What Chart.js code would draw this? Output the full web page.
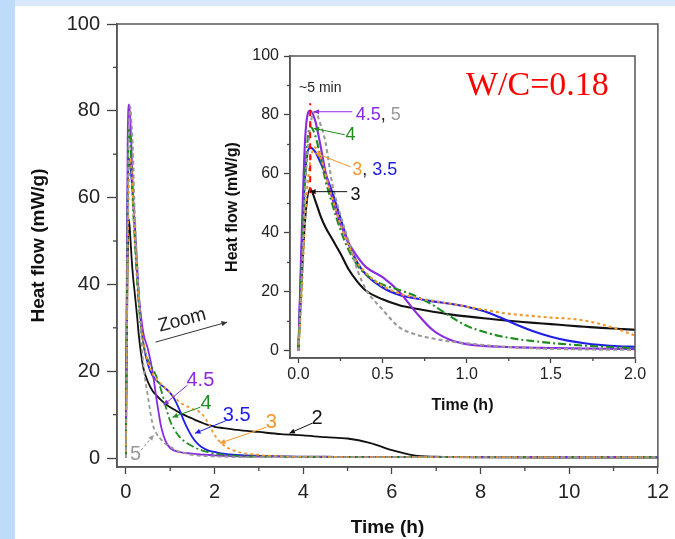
<!DOCTYPE html>
<html>
<head>
<meta charset="utf-8">
<script src="https://cdn.jsdelivr.net/npm/chart.js@4.4.0/dist/chart.umd.min.js"></script>
<style>
  html, body { margin: 0; padding: 0; }
  body { width: 675px; height: 539px; background: #bedbfb; position: relative; overflow: hidden; }
  #top-strip { position: absolute; left: 15px; top: 0; width: 660px; height: 6px; background: #d8e9fc; }
  #panel { position: absolute; left: 15px; top: 6px; width: 660px; height: 533px; background: #fff; }
  #main-chart { position: absolute; left: 0; top: 0; }
  #inset-chart { position: absolute; left: 215px; top: 40px; }
</style>
</head>
<body>
<div id="top-strip"></div>
<div id="panel"></div>
<canvas id="main-chart" width="675" height="539"></canvas>
<canvas id="inset-chart" width="445" height="375"></canvas>
<script>
// time (h)
const times = [0, 0.02, 0.04, 0.07, 0.1, 0.13, 0.16, 0.2, 0.25, 0.3, 0.35, 0.4, 0.5, 0.6, 0.7, 0.8, 0.9, 1.0, 1.1, 1.2,
  1.3, 1.4, 1.5, 1.6, 1.7, 1.8, 1.9, 2.0, 2.2, 2.5, 3, 3.5, 4, 4.5, 5, 5.5, 6, 6.5, 7, 8, 10, 12];

// heat flow (mW/g), one list per curve label
const flow2 = [0, 25, 45, 55, 51, 46, 42, 38, 33, 27.5, 23.5, 20.5, 17.5, 15.5, 14.3, 13.3, 12.4, 11.7, 11.1, 10.5,
  10.0, 9.5, 9.1, 8.6, 8.2, 7.8, 7.5, 7.2, 6.9, 6.5, 6.0, 5.5, 5.2, 4.8, 4.5, 3.5, 1.8, 0.6, 0.3, 0.15, 0.1, 0.1];
const flow3 = [0, 20, 45, 64, 69, 66, 60, 52, 43, 35.5, 30, 26.5, 22, 19.5, 18, 17, 16, 15, 14, 13,
  12.3, 11.8, 11.3, 11, 10.3, 9, 7.3, 5.3, 3.0, 1.5, 0.7, 0.4, 0.3, 0.3, 0.2, 0.2, 0.2, 0.2, 0.2, 0.2, 0.2, 0.2];
const flow35 = [0, 35, 60, 69, 67.5, 64, 60, 54, 45, 36, 30, 26, 21.5, 19, 17.8, 16.8, 16, 15, 13.5, 11.3,
  8.8, 6.6, 4.8, 3.5, 2.6, 2.0, 1.6, 1.4, 1.0, 0.7, 0.5, 0.4, 0.3, 0.3, 0.2, 0.2, 0.2, 0.2, 0.2, 0.2, 0.2, 0.2];
const flow4 = [0, 30, 60, 76, 73, 66, 58, 50, 41, 34, 29, 26, 22.5, 20.7, 18.5, 15.5, 11.8, 8.5, 6.5, 5.0,
  4.0, 3.3, 2.7, 2.2, 1.8, 1.5, 1.2, 1.0, 0.8, 0.5, 0.3, 0.3, 0.2, 0.2, 0.2, 0.2, 0.2, 0.2, 0.2, 0.2, 0.2, 0.2];
const flow45 = [0, 40, 72, 81.5, 78, 70, 61, 52, 43, 36.5, 32, 28.5, 25, 20, 13, 7, 3.8, 2.3, 1.7, 1.4,
  1.2, 1.1, 1.0, 0.9, 0.8, 0.75, 0.7, 0.6, 0.5, 0.4, 0.3, 0.3, 0.2, 0.2, 0.2, 0.2, 0.2, 0.2, 0.2, 0.2, 0.2, 0.2];
const flow5 = [0, 25, 55, 76, 81, 77, 71, 57, 46, 37, 27.5, 21, 14, 8, 5.5, 4.2, 3.2, 2.6, 2.0, 1.5,
  1.2, 0.9, 0.7, 0.6, 0.5, 0.45, 0.4, 0.35, 0.3, 0.2, 0.2, 0.2, 0.2, 0.2, 0.2, 0.2, 0.2, 0.2, 0.2, 0.2, 0.2, 0.2];

// tick values
const mainXTicks = [0, 1, 2, 3, 4, 5, 6, 7, 8, 9, 10, 11, 12];
const mainXLabels = [0, 2, 4, 6, 8, 10, 12];
const mainYTicks = [0, 10, 20, 30, 40, 50, 60, 70, 80, 90, 100];
const mainYLabels = [0, 20, 40, 60, 80, 100];
const insetXTicks = [0, 0.25, 0.5, 0.75, 1.0, 1.25, 1.5, 1.75, 2.0];
const insetXLabels = [0, 0.5, 1.0, 1.5, 2.0];
const insetYTicks = [0, 10, 20, 30, 40, 50, 60, 70, 80, 90, 100];
const insetYLabels = [0, 20, 40, 60, 80, 100];

const FONT = "'Liberation Sans', Arial, sans-serif";
const PURPLE = '#8a2be2', BLUE = '#1e1ee6', ORANGE = '#f5962a', GREEN = '#1e8c1e', GRAY = '#999999', BLACK = '#111111';

// first one is drawn on top
const curves = [
  { values: flow5, color: GRAY, dash: [4, 3] },
  { values: flow3, color: ORANGE, dash: [3, 3] },
  { values: flow4, color: GREEN, dash: [8, 3, 2, 3] },
  { values: flow45, color: PURPLE, dash: [] },
  { values: flow35, color: BLUE, dash: [] },
  { values: flow2, color: BLACK, dash: [] },
];

const makeDatasets = (lw) => curves.map(c => ({
  data: times.map((t, i) => ({ x: t, y: c.values[i] })),
  borderColor: c.color,
  borderDash: c.dash,
  borderWidth: lw,
  pointRadius: 0,
  fill: false,
  cubicInterpolationMode: 'monotone',
}));

// frame, minor ticks and notes
const frame = {
  id: 'frame',
  afterDatasetsDraw(chart, args, opts) {
    const { ctx, chartArea: a } = chart;
    ctx.save();
    ctx.strokeStyle = '#555';
    ctx.lineWidth = 1.5;
    ctx.strokeRect(a.left, a.top, a.right - a.left, a.bottom - a.top);
    // minor ticks
    ctx.strokeStyle = '#444';
    ctx.lineWidth = 1.3;
    const xs = chart.scales.x, ys = chart.scales.y;
    xs.ticks.forEach(t => {
      if (t.label !== '') return;
      const px = xs.getPixelForValue(t.value);
      ctx.beginPath(); ctx.moveTo(px, a.bottom); ctx.lineTo(px, a.bottom + opts.minor); ctx.stroke();
    });
    ys.ticks.forEach(t => {
      if (t.label !== '') return;
      const py = ys.getPixelForValue(t.value);
      ctx.beginPath(); ctx.moveTo(a.left, py); ctx.lineTo(a.left - opts.minor, py); ctx.stroke();
    });
    ctx.restore();
  }
};

const drawHead = (ctx, x, y, fromX, fromY, size) => {
  const ang = Math.atan2(y - fromY, x - fromX);
  ctx.beginPath();
  ctx.moveTo(x, y);
  ctx.lineTo(x - size * Math.cos(ang - 0.45), y - size * Math.sin(ang - 0.45));
  ctx.lineTo(x - size * Math.cos(ang + 0.45), y - size * Math.sin(ang + 0.45));
  ctx.closePath();
  ctx.fill();
};

const notes = {
  id: 'notes',
  afterDatasetsDraw(chart, args, opts) {
    const { ctx } = chart;
    const xs = chart.scales.x, ys = chart.scales.y;
    (opts.items || []).forEach(it => {
      ctx.save();
      if (it.kind === 'arrow') {
        const x1 = xs.getPixelForValue(it.x1), y1 = ys.getPixelForValue(it.y1);
        const x2 = xs.getPixelForValue(it.x2), y2 = ys.getPixelForValue(it.y2);
        ctx.strokeStyle = it.color;
        ctx.fillStyle = it.color;
        ctx.lineWidth = it.width || 1;
        ctx.setLineDash(it.dash || []);
        ctx.beginPath(); ctx.moveTo(x1, y1); ctx.lineTo(x2, y2); ctx.stroke();
        ctx.setLineDash([]);
        if (it.head === 'start') drawHead(ctx, x1, y1, x2, y2, 6);
        if (it.head === 'end') drawHead(ctx, x2, y2, x1, y1, 6);
      } else {
        const px = xs.getPixelForValue(it.x), py = ys.getPixelForValue(it.y);
        ctx.font = it.font;
        ctx.textBaseline = 'middle';
        const parts = it.parts || [{ t: it.text, c: it.color }];
        const total = parts.reduce((s, p) => s + ctx.measureText(p.t).width, 0);
        ctx.translate(px, py);
        if (it.rotate) ctx.rotate(it.rotate * Math.PI / 180);
        let cx = it.align === 'left' ? 0 : -total / 2;
        parts.forEach(p => {
          ctx.fillStyle = p.c;
          ctx.fillText(p.t, cx, 0);
          cx += ctx.measureText(p.t).width;
        });
      }
      ctx.restore();
    });
  }
};

const labelFont = (size) => `${size}px ${FONT}`;

const mainNotes = [
  { text: 'Zoom', color: '#222', font: labelFont(19), x: 1.27, y: 31.7, rotate: -15 },
  { kind: 'arrow', x1: 0.67, y1: 26.7, x2: 2.28, y2: 31.3, color: '#333', head: 'end' },
  { text: '4.5', color: PURPLE, font: labelFont(20), x: 1.68, y: 17.9 },
  { kind: 'arrow', x1: 0.85, y1: 12.2, x2: 1.39, y2: 16.8, color: PURPLE, head: 'start' },
  { text: '4', color: GREEN, font: labelFont(20), x: 1.81, y: 12.6 },
  { kind: 'arrow', x1: 1.05, y1: 9.4, x2: 1.68, y2: 11.7, color: GREEN, head: 'start' },
  { text: '3.5', color: BLUE, font: labelFont(20), x: 2.5, y: 9.9 },
  { kind: 'arrow', x1: 1.56, y1: 5.7, x2: 2.28, y2: 8.7, color: BLUE, head: 'start' },
  { text: '3', color: ORANGE, font: labelFont(20), x: 3.28, y: 8.3 },
  { kind: 'arrow', x1: 2.12, y1: 3.4, x2: 3.17, y2: 7.1, color: ORANGE, head: 'start' },
  { text: '2', color: BLACK, font: labelFont(20), x: 4.31, y: 9.2 },
  { kind: 'arrow', x1: 3.69, y1: 5.7, x2: 4.2, y2: 8.0, color: BLACK, head: 'start' },
  { text: '5', color: GRAY, font: labelFont(20), x: 0.22, y: 0.7 },
  { kind: 'arrow', x1: 0.34, y1: 1.8, x2: 0.63, y2: 5.3, color: GRAY, head: 'end', dash: [3, 2] },
];

const insetNotes = [
  { text: '~5 min', color: '#222', font: labelFont(14), x: 0.13, y: 89 },
  { kind: 'arrow', x1: 0.07, y1: 53.5, x2: 0.07, y2: 84, color: '#ff0000', width: 2, dash: [6, 5] },
  { parts: [{ t: '4.5', c: PURPLE }, { t: ', ', c: '#222' }, { t: '5', c: GRAY }], font: labelFont(18), x: 0.34, y: 80, align: 'left' },
  { kind: 'arrow', x1: 0.09, y1: 81.1, x2: 0.32, y2: 81.1, color: PURPLE, head: 'start' },
  { text: '4', color: GREEN, font: labelFont(18), x: 0.28, y: 73.3, align: 'left' },
  { kind: 'arrow', x1: 0.09, y1: 75.5, x2: 0.275, y2: 73.3, color: GREEN, head: 'start' },
  { parts: [{ t: '3', c: ORANGE }, { t: ', ', c: '#222' }, { t: '3.5', c: BLUE }], font: labelFont(18), x: 0.32, y: 61.4, align: 'left' },
  { kind: 'arrow', x1: 0.1, y1: 67.1, x2: 0.31, y2: 62.4, color: ORANGE, head: 'start' },
  { text: '3', color: BLACK, font: labelFont(18), x: 0.31, y: 53, align: 'left' },
  { kind: 'arrow', x1: 0.07, y1: 54, x2: 0.29, y2: 54, color: BLACK, head: 'start' },
  { text: 'W/C=0.18', color: '#ff0000', font: "34px 'Liberation Serif', 'Times New Roman', serif", x: 1.42, y: 89.8 },
];

const makeAxis = (o) => ({
  type: 'linear',
  min: o.min,
  max: o.max,
  afterBuildTicks: s => { s.ticks = o.ticks.map(v => ({ value: v })); },
  afterFit: s => { if (o.horizontal) s.height = o.size; else s.width = o.size; },
  grid: {
    drawOnChartArea: false,
    tickLength: o.tickLength,
    tickWidth: 1.3,
    tickColor: c => (c.tick && o.labels.includes(c.tick.value)) ? '#444' : 'transparent',
  },
  border: { color: '#555', width: 1.5 },
  ticks: {
    color: '#222',
    font: { size: o.fontSize, family: FONT },
    padding: o.padding,
    maxRotation: 0,
    autoSkip: false,
    callback: v => o.labels.includes(v) ? o.format(v) : '',
  },
  title: {
    display: true,
    text: o.title,
    color: '#111',
    font: { size: o.titleSize, weight: 'bold', family: FONT },
    padding: o.titlePad,
  },
});

new Chart(document.getElementById('main-chart'), {
  type: 'line',
  data: { datasets: makeDatasets(1.8) },
  options: {
    responsive: false,
    animation: false,
    layout: { padding: { left: 0, top: 24, right: 13, bottom: 0 } },
    plugins: {
      legend: { display: false },
      tooltip: { enabled: false },
      frame: { minor: 4 },
      notes: { items: mainNotes },
    },
    scales: {
      x: makeAxis({ min: -0.2, max: 12, ticks: mainXTicks, labels: mainXLabels, format: v => String(v),
        horizontal: true, size: 72, tickLength: 7, fontSize: 20, padding: 6,
        title: 'Time (h)', titleSize: 19, titlePad: { top: 0, bottom: 0 } }),
      y: makeAxis({ min: -2.07, max: 100, ticks: mainYTicks, labels: mainYLabels, format: v => String(v),
        horizontal: false, size: 117, tickLength: 10, fontSize: 20, padding: 7,
        title: 'Heat flow (mW/g)', titleSize: 19, titlePad: { top: 27, bottom: 0 } }),
    }
  },
  plugins: [frame, notes]
});

new Chart(document.getElementById('inset-chart'), {
  type: 'line',
  data: { datasets: makeDatasets(2.1) },
  options: {
    responsive: false,
    animation: false,
    layout: { padding: { left: 0, top: 16, right: 25, bottom: 0 } },
    plugins: {
      legend: { display: false },
      tooltip: { enabled: false },
      frame: { minor: 3 },
      notes: { items: insetNotes },
    },
    scales: {
      x: makeAxis({ min: -0.05, max: 2.0, ticks: insetXTicks, labels: insetXLabels, format: v => v.toFixed(1),
        horizontal: true, size: 57, tickLength: 5, fontSize: 16, padding: 2,
        title: 'Time (h)', titleSize: 16, titlePad: { top: 0, bottom: 0 } }),
      y: makeAxis({ min: -2.4, max: 100, ticks: insetYTicks, labels: insetYLabels, format: v => String(v),
        horizontal: false, size: 75, tickLength: 6, fontSize: 16, padding: 5,
        title: 'Heat flow (mW/g)', titleSize: 16, titlePad: { top: 8, bottom: 0 } }),
    }
  },
  plugins: [frame, notes]
});
</script>
</body>
</html>
